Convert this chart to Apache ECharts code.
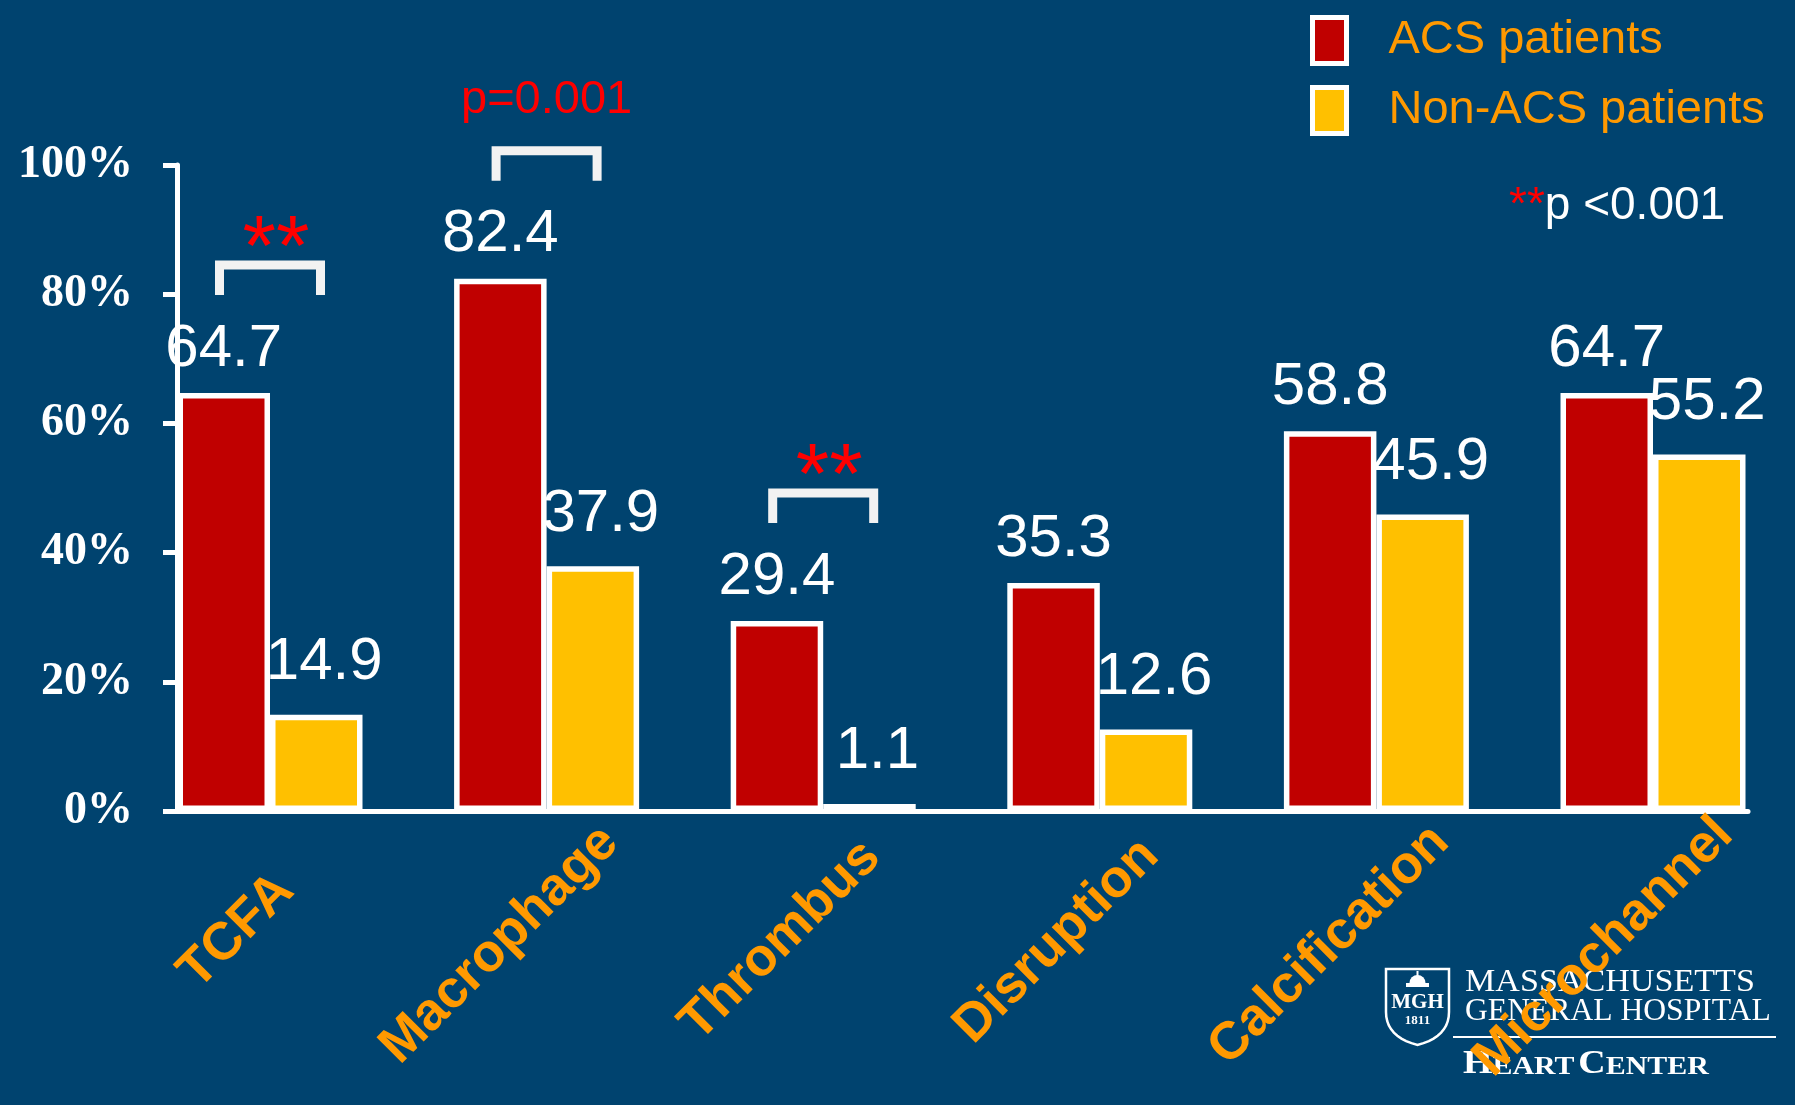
<!DOCTYPE html>
<html>
<head>
<meta charset="utf-8">
<title>ACS vs Non-ACS plaque features</title>
<script src="https://cdn.jsdelivr.net/npm/echarts@6/dist/echarts.min.js"></script>
<style>
  html, body { margin: 0; padding: 0; background: #00436F; }
  #chart { width: 1795px; height: 1105px; }
</style>
</head>
<body>
<div id="chart"></div>
<script>
// ---- data ----
const categories = ['TCFA', 'Macrophage', 'Thrombus', 'Disruption', 'Calcification', 'Microchannel'];
const acsValues = [64.7, 82.4, 29.4, 35.3, 58.8, 64.7];
const nonAcsValues = [14.9, 37.9, 1.1, 12.6, 45.9, 55.2];
const seriesNames = ['ACS patients', 'Non-ACS patients'];
const yMin = 0, yMax = 100, yStep = 20;
// significance brackets drawn over the pairs
const sigCategories = ['TCFA', 'Macrophage', 'Thrombus'];
const sigTexts = ['**', 'p=0.001', '**'];

// ---- styling ----
const SANS = '"Liberation Sans", Arial, sans-serif';
const SERIF = '"Liberation Serif", "Times New Roman", serif';
const BG = '#00436F';
const WHITE = '#FFFFFF';
const ORANGE = '#FF9900';
const RED_TEXT = '#FF0000';
const CAT_FONT_SIZE = 53;

const sigData = sigCategories.map(function (c) {
  const i = categories.indexOf(c);
  return [i, Math.max(acsValues[i], nonAcsValues[i])];
});

// width of a string in the category label font
const measureCtx = document.createElement('canvas').getContext('2d');
function textWidth(s) {
  measureCtx.font = 'bold ' + CAT_FONT_SIZE + 'px "Liberation Sans"';
  return measureCtx.measureText(s).width;
}

// slanted category labels: centred label box with a trailing spacer, so the
// word sits a little past the tick and runs further down-left when longer
const catRich = {
  t: { color: ORANGE, fontFamily: SANS, fontWeight: 'bold', fontSize: CAT_FONT_SIZE }
};
categories.forEach(function (c, i) {
  catRich['s' + i] = { width: 0.22 * textWidth(c) + 64, fontSize: CAT_FONT_SIZE };
});

// outline of the logo shield: flat top, straight sides, curved point at the bottom
function shieldPoints(x0, x1, yTop, ySide, yTip) {
  const pts = [[x0, yTop], [x1, yTop], [x1, ySide]];
  const xm = (x0 + x1) / 2;
  const n = 10;
  const cy = ySide + (yTip - ySide) * 0.75;
  for (let k = 1; k <= n; k++) {
    const t = k / n;
    pts.push([(1 - t) * (1 - t) * x1 + 2 * (1 - t) * t * x1 + t * t * xm,
              (1 - t) * (1 - t) * ySide + 2 * (1 - t) * t * cy + t * t * yTip]);
  }
  for (let k = 1; k <= n; k++) {
    const t = k / n;
    pts.push([(1 - t) * (1 - t) * xm + 2 * (1 - t) * t * x0 + t * t * x0,
              (1 - t) * (1 - t) * yTip + 2 * (1 - t) * t * cy + t * t * ySide]);
  }
  return pts;
}

const chart = echarts.init(document.getElementById('chart'), null, { renderer: 'canvas' });

const barLabel = {
  show: true,
  position: 'top',
  color: WHITE,
  fontFamily: SANS,
  fontSize: 60
};

const option = {
  backgroundColor: BG,
  animation: false,
  grid: [
    // plotting grid for the bars (category bands)
    { left: 131.7, right: 3.7, top: 165, bottom: 294, outerBoundsMode: 'none' },
    // frame grid carrying the visible axes
    { left: 177, right: 47, top: 165, bottom: 294, outerBoundsMode: 'none' }
  ],
  legend: {
    data: seriesNames,
    orient: 'vertical',
    left: 1310,
    top: 15,
    padding: 0,
    itemWidth: 34,
    itemHeight: 46,
    itemGap: 19,
    icon: 'rect',
    selectedMode: false,
    itemStyle: { borderColor: WHITE, borderWidth: 5 },
    textStyle: { color: ORANGE, fontFamily: SANS, fontSize: 47, padding: [0, 0, 0, 37] }
  },
  xAxis: [
    {
      type: 'category', gridIndex: 0, data: categories,
      axisLine: { show: false }, axisTick: { show: false },
      axisLabel: {
        interval: 0, rotate: 45, margin: 87,
        align: 'center', verticalAlign: 'middle',
        formatter: function (value, index) { return '{t|' + value + '}{s' + index + '| }'; },
        rich: catRich
      }
    },
    {
      type: 'category', gridIndex: 1, data: categories,
      axisLine: { show: true, lineStyle: { color: WHITE, width: 5 } },
      axisTick: { show: false }, axisLabel: { show: false }
    }
  ],
  yAxis: [
    { type: 'value', gridIndex: 0, min: yMin, max: yMax, interval: yStep, show: false },
    {
      type: 'value', gridIndex: 1, min: yMin, max: yMax, interval: yStep,
      splitLine: { show: false },
      axisLine: { show: true, lineStyle: { color: WHITE, width: 5 } },
      axisTick: { show: true, length: 14, lineStyle: { color: WHITE, width: 5 } },
      axisLabel: {
        formatter: '{value}%', margin: 44, color: WHITE,
        fontFamily: SERIF, fontWeight: 'bold', fontSize: 46
      }
    }
  ],
  series: [
    {
      name: seriesNames[0], type: 'bar', xAxisIndex: 0, yAxisIndex: 0,
      data: acsValues, barWidth: 92.5, barGap: '0%', z: 3,
      itemStyle: { color: '#C00000', borderColor: WHITE, borderWidth: 5.5 },
      label: Object.assign({}, barLabel, { distance: 14 })
    },
    {
      name: seriesNames[1], type: 'bar', xAxisIndex: 0, yAxisIndex: 0,
      data: nonAcsValues, barWidth: 92.5, barGap: '0%', z: 2,
      itemStyle: { color: '#FFC000', borderColor: WHITE, borderWidth: 5.5 },
      label: Object.assign({}, barLabel, { distance: 22, offset: [8, 0] })
    },
    {
      type: 'custom', xAxisIndex: 0, yAxisIndex: 0, z: 6, silent: true, clip: false,
      data: sigData,
      renderItem: function (params, api) {
        const i = api.value(0);
        const v = api.value(1);
        const p = api.coord([i, v]);
        const x = p[0];
        const yTop = p[1] - 128;
        const half = 50.5, leg = 30;
        const text = sigTexts[params.dataIndex];
        const stars = text === '**';
        return {
          type: 'group',
          children: [
            {
              type: 'polyline',
              shape: { points: [[x - half, yTop + leg], [x - half, yTop], [x + half, yTop], [x + half, yTop + leg]] },
              style: { stroke: '#F2F2F2', lineWidth: 9, fill: null, lineJoin: 'miter', lineCap: 'butt' }
            },
            {
              type: 'text',
              style: {
                text: text, x: stars ? x + 6 : x, y: stars ? yTop - 14 : yTop - 51,
                fill: RED_TEXT, fontFamily: SANS, fontSize: stars ? 86 : 47,
                align: 'center', verticalAlign: 'middle'
              }
            }
          ]
        };
      }
    }
  ],
  graphic: [
    {
      type: 'text', x: 1509, y: 206, z: 1,
      style: {
        text: '{s|**}{t|p <0.001}',
        verticalAlign: 'middle',
        rich: {
          s: { fill: RED_TEXT, fontSize: 46, fontFamily: SANS },
          t: { fill: WHITE, fontSize: 46, fontFamily: SANS }
        }
      }
    },
    // hospital logo: shield, wordmark and rule
    {
      type: 'polygon', z: -1,
      shape: { points: shieldPoints(1386, 1449, 969, 1012, 1045) },
      style: { fill: null, stroke: WHITE, lineWidth: 2.5 }
    },
    {
      type: 'rect', z: -1,
      shape: { x: 1406, y: 983, width: 23, height: 4 },
      style: { fill: WHITE }
    },
    {
      type: 'sector', z: -1,
      shape: { cx: 1417.5, cy: 983, r: 8, r0: 0, startAngle: Math.PI, endAngle: Math.PI * 2 },
      style: { fill: WHITE }
    },
    {
      type: 'rect', z: -1,
      shape: { x: 1416.5, y: 971, width: 2, height: 5 },
      style: { fill: WHITE }
    },
    {
      type: 'text', x: 1417.5, y: 1003, z: -1,
      style: { text: 'MGH', fill: WHITE, fontFamily: SERIF, fontWeight: 'bold', fontSize: 21, align: 'center', verticalAlign: 'middle' }
    },
    {
      type: 'text', x: 1417.5, y: 1021, z: -1,
      style: { text: '1811', fill: WHITE, fontFamily: SERIF, fontWeight: 'bold', fontSize: 13, align: 'center', verticalAlign: 'middle' }
    },
    {
      type: 'text', x: 1465, y: 983, z: -1, scaleX: 1.10,
      style: { text: 'MASSACHUSETTS', fill: WHITE, fontFamily: SERIF, fontSize: 31, align: 'left', verticalAlign: 'middle' }
    },
    {
      type: 'text', x: 1465, y: 1012, z: -1, scaleX: 1.02,
      style: { text: 'GENERAL HOSPITAL', fill: WHITE, fontFamily: SERIF, fontSize: 31, align: 'left', verticalAlign: 'middle' }
    },
    {
      type: 'line', z: -1,
      shape: { x1: 1453, y1: 1037, x2: 1776, y2: 1037 },
      style: { stroke: WHITE, lineWidth: 2 }
    },
    {
      type: 'text', x: 1463, y: 1064, z: -1, scaleX: 1.15,
      style: {
        text: '{b|H}{s|EART} {b|C}{s|ENTER}',
        verticalAlign: 'middle',
        rich: {
          b: { fill: WHITE, fontFamily: SERIF, fontWeight: 'bold', fontSize: 33, verticalAlign: 'bottom', lineHeight: 33 },
          s: { fill: WHITE, fontFamily: SERIF, fontWeight: 'bold', fontSize: 26, verticalAlign: 'bottom', lineHeight: 33 }
        }
      }
    }
  ]
};

chart.setOption(option);
</script>
</body>
</html>
